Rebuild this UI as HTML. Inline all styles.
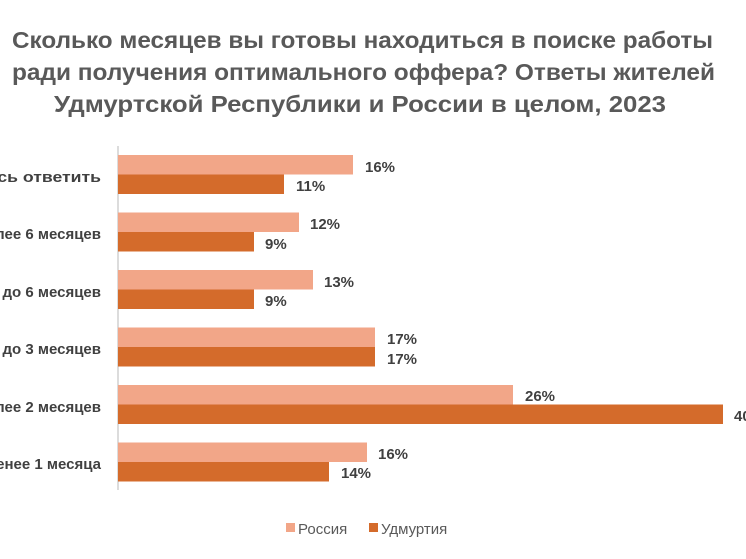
<!DOCTYPE html>
<html><head><meta charset="utf-8"><style>
html,body{margin:0;padding:0;background:#fff;}
svg{display:block;font-family:"Liberation Sans",sans-serif;}
</style></head><body>
<svg width="746" height="559" viewBox="0 0 746 559">
<g fill="#595959" font-weight="bold" font-size="23">
<text x="12" y="48" textLength="701" lengthAdjust="spacingAndGlyphs">Сколько месяцев вы готовы находиться в поиске работы</text>
<text x="12" y="80" textLength="703" lengthAdjust="spacingAndGlyphs">ради получения оптимального оффера? Ответы жителей</text>
<text x="54" y="112" textLength="612" lengthAdjust="spacingAndGlyphs">Удмуртской Республики и России в целом, 2023</text>
</g>
<line x1="118" y1="146" x2="118" y2="490" stroke="#d0d0d0" stroke-width="1.5"/>
<g font-weight="bold" font-size="15" fill="#404040" text-anchor="end">
<text x="101" y="182" textLength="200" lengthAdjust="spacingAndGlyphs">Затрудняюсь ответить</text>
<text x="101" y="239">Более 6 месяцев</text>
<text x="101" y="297">От 3 до 6 месяцев</text>
<text x="101" y="354">От 2 до 3 месяцев</text>
<text x="101" y="412">Не более 2 месяцев</text>
<text x="101" y="469">Не менее 1 месяца</text>
</g>
<g fill="#F2A688">
<rect x="118" y="155" width="235" height="19.5"/>
<rect x="118" y="212.5" width="181" height="19.5"/>
<rect x="118" y="270" width="195" height="19.5"/>
<rect x="118" y="327.5" width="257" height="19.5"/>
<rect x="118" y="385" width="395" height="19.5"/>
<rect x="118" y="442.5" width="249" height="19.5"/>
</g>
<g fill="#D46B2B">
<rect x="118" y="174.5" width="166" height="19.5"/>
<rect x="118" y="232" width="136" height="19.5"/>
<rect x="118" y="289.5" width="136" height="19.5"/>
<rect x="118" y="347" width="257" height="19.5"/>
<rect x="118" y="404.5" width="605" height="19.5"/>
<rect x="118" y="462" width="211" height="19.5"/>
</g>
<g font-weight="bold" font-size="15" fill="#404040">
<text x="365" y="172">16%</text>
<text x="296" y="191">11%</text>
<text x="310" y="229">12%</text>
<text x="265" y="249">9%</text>
<text x="324" y="287">13%</text>
<text x="265" y="306">9%</text>
<text x="387" y="344">17%</text>
<text x="387" y="364">17%</text>
<text x="525" y="401">26%</text>
<text x="734" y="421">40%</text>
<text x="378" y="459">16%</text>
<text x="341" y="478">14%</text>
</g>
<rect x="286" y="523" width="9" height="9" fill="#F2A688"/>
<text x="298" y="534" font-size="15" fill="#595959">Россия</text>
<rect x="369" y="523" width="9" height="9" fill="#D46B2B"/>
<text x="381" y="534" font-size="15" fill="#595959">Удмуртия</text>
</svg>
</body></html>
